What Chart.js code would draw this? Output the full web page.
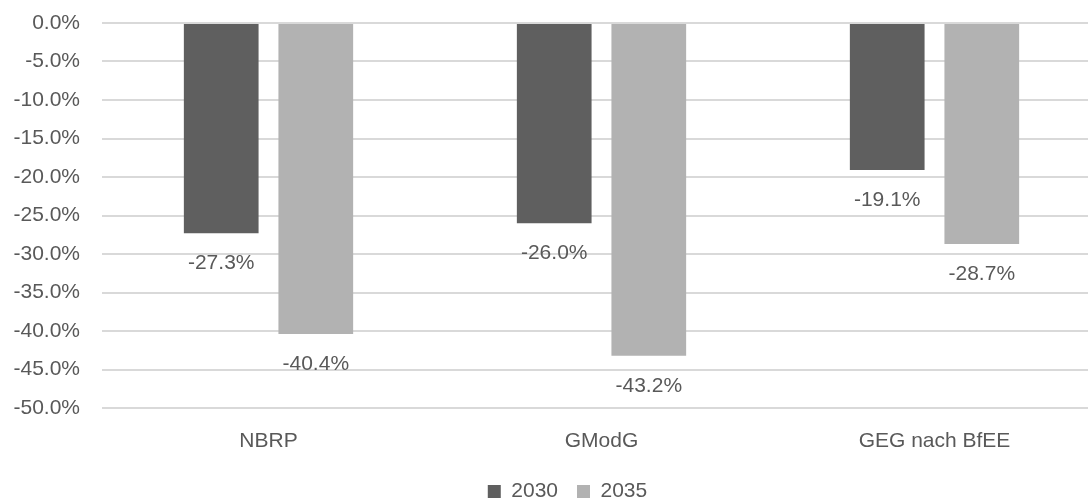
<!DOCTYPE html>
<html>
<head>
<meta charset="utf-8">
<script src="https://cdn.jsdelivr.net/npm/chart.js@4.4.0/dist/chart.umd.min.js"></script>
<style>
html,body{margin:0;padding:0;background:#fff;overflow:hidden;}
#wrap{width:1101px;height:502px;}
</style>
</head>
<body>
<div id="wrap"><canvas id="c" width="1101" height="502"></canvas></div>
<script>
const categories = ['NBRP', 'GModG', 'GEG nach BfEE'];
const values2030 = [-27.3, -26.0, -19.1];
const values2035 = [-40.4, -43.2, -28.7];
const seriesNames = ['2030', '2035'];
const yTicks = [0, -5, -10, -15, -20, -25, -30, -35, -40, -45, -50];

const txt = '#595959';
const font = "'Liberation Sans', Arial, sans-serif";
Chart.defaults.font.family = font;
Chart.defaults.color = txt;

// labels under each bar end
const barLabels = {
  id: 'barLabels',
  afterDatasetsDraw(chart){
    const ctx = chart.ctx;
    ctx.save();
    ctx.font = '21px ' + font;
    ctx.fillStyle = txt;
    ctx.textAlign = 'center';
    ctx.textBaseline = 'alphabetic';
    chart.data.datasets.forEach((ds, i) => {
      chart.getDatasetMeta(i).data.forEach((bar, j) => {
        ctx.fillText(ds.data[j].toFixed(1) + '%', bar.x, bar.y + 36);
      });
    });
    ctx.restore();
  }
};

// legend sits a bit right of centre in the original
const legendShift = {
  id: 'legendShift',
  afterLayout(chart){
    const lg = chart.legend;
    if(lg){ lg.left += 17; lg.right += 17; }
  }
};

new Chart(document.getElementById('c'), {
  type: 'bar',
  data: {
    labels: categories,
    datasets: [
      {label: seriesNames[0], data: values2030, backgroundColor: '#5f5f5f'},
      {label: seriesNames[1], data: values2035, backgroundColor: '#b2b2b2'}
    ]
  },
  options: {
    responsive: false,
    animation: false,
    datasets: {bar: {categoryPercentage: 0.568, barPercentage: 0.79}},
    layout: {padding: {top: 23, right: 0, left: 0, bottom: -10}},
    plugins: {
      tooltip: {enabled: false},
      legend: {
        position: 'bottom',
        labels: {boxWidth: 13, boxHeight: 13, padding: 19, color: txt, font: {size: 21}}
      }
    },
    scales: {
      x: {
        grid: {display: false},
        border: {display: false},
        ticks: {padding: 13, color: txt, font: {size: 21}},
        afterFit(s){ s.height = 54; }
      },
      y: {
        min: -50, max: 0,
        afterBuildTicks(s){ s.ticks = yTicks.map(v => ({value: v})); },
        grid: {color: '#d9d9d9', lineWidth: 2, drawTicks: false},
        border: {display: false},
        ticks: {padding: 22, color: txt, font: {size: 21}, callback: v => v.toFixed(1) + '%'},
        afterFit(s){ s.width = 102; s.paddingTop = 0; s.paddingBottom = 0; }
      }
    }
  },
  plugins: [barLabels, legendShift]
});
</script>
</body>
</html>
